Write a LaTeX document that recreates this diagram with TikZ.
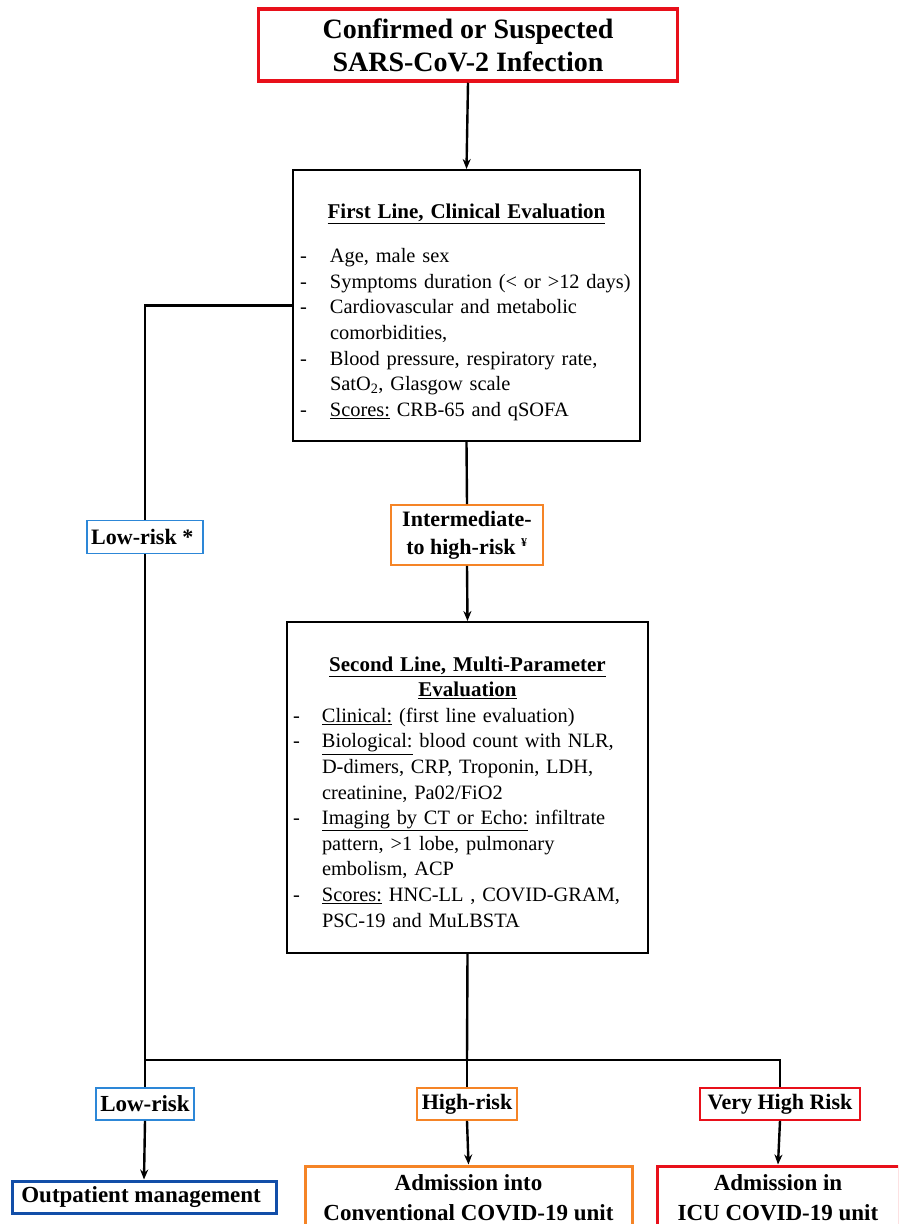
\documentclass[tikz,border=0pt]{standalone}
\usepackage{fontspec}
\setmainfont{Liberation Serif}
\usetikzlibrary{arrows.meta}

\definecolor{alarmred}{RGB}{232,16,26}
\definecolor{warnorange}{RGB}{245,132,38}
\definecolor{lowblue}{RGB}{45,135,215}
\definecolor{deepblue}{RGB}{18,78,168}

\tikzstyle{block} = [rectangle, draw, line width=2pt, inner sep=0pt, font=\fontsize{20.4}{25.6}\selectfont]
\tikzstyle{riskbox} = [rectangle, draw, line width=1.8pt, inner sep=0pt, align=center, font=\bfseries\fontsize{22}{28}\selectfont]
\tikzstyle{endbox} = [rectangle, draw, line width=3pt, inner sep=0pt, align=center, font=\bfseries\fontsize{23}{30}\selectfont]
\tikzstyle{line} = [line width=2.4pt]
\tikzstyle{arrow} = [line width=2.4pt,-{Stealth[length=10pt,width=8pt]}]

\newcommand{\headline}[1]{\makebox[\linewidth]{\fontsize{21}{25.6}\selectfont\bfseries\underline{#1}}}

\begin{document}
\begin{tikzpicture}[x = 1pt, y = -1pt]

\useasboundingbox (0,0) rectangle (898,1224);
\clip (0,0) rectangle (898,1224);

% ----------------------------------------------------

  \node (infection) [rectangle, draw=alarmred, line width=3.5pt, align=center,
        minimum width=419pt, minimum height=72pt, inner sep=0pt,
        font=\bfseries\fontsize{28}{33}\selectfont] at (468, 45) {
    Confirmed or Suspected \\
    SARS-CoV-2 Infection
  };

  \node (first) [block, minimum width=347pt, minimum height=271pt,
        text width=333pt, align=left] at (466.5, 305.5) {
    \rule{0pt}{31pt}\headline{First Line, Clinical Evaluation} \\[19pt]
    \begin{tabular}[t]{@{}p{30pt}@{}l@{}}
      - & Age, male sex \\
      - & Symptoms duration (< or >12 days) \\
      - & Cardiovascular and metabolic \\
        & comorbidities, \\
      - & Blood pressure, respiratory rate, \\
        & SatO\textsubscript{2}, Glasgow scale \\
      - & \underline{Scores:} CRB-65 and qSOFA
    \end{tabular}
  };

  \node (lowfirst) [riskbox, draw=lowblue, minimum width=116pt, minimum height=33pt] at (145, 537) {
    Low-risk *
  };

  \node (intermediate) [riskbox, draw=warnorange, minimum width=152pt, minimum height=60pt] at (467, 535) {
    Intermediate- \\
    to high-risk \textsuperscript{\fontsize{12}{12}\selectfont ¥}
  };

  \node (second) [block, minimum width=361pt, minimum height=331pt,
        text width=349pt, align=left] at (467.5, 787.5) {
    \rule{0pt}{31pt}\headline{Second Line, Multi-Parameter} \\
    \headline{Evaluation} \\
    \begin{tabular}[t]{@{}p{29pt}@{}l@{}}
      - & \underline{Clinical:} (first line evaluation) \\
      - & \underline{Biological:} blood count with NLR, \\
        & D-dimers, CRP, Troponin, LDH, \\
        & creatinine, Pa02/FiO2 \\
      - & \underline{Imaging by CT or Echo:} infiltrate \\
        & pattern, >1 lobe, pulmonary \\
        & embolism, ACP \\
      - & \underline{Scores:} HNC-LL , COVID-GRAM, \\
        & PSC-19 and MuLBSTA
    \end{tabular}
  };

  \coordinate (split) at (467, 1060);

  \node (lowrisk) [riskbox, draw=lowblue, minimum width=98pt, minimum height=32pt,
        font=\bfseries\fontsize{23}{28}\selectfont] at (145, 1104) {Low-risk};
  \node (highrisk) [riskbox, draw=warnorange, minimum width=100pt, minimum height=32pt] at (467, 1104) {High-risk};
  \node (veryhigh) [riskbox, draw=alarmred, minimum width=160pt, minimum height=32pt] at (780, 1104) {Very High Risk};

  \node (outpatient) [endbox, draw=deepblue, minimum width=264pt, minimum height=32pt] at (144, 1197) {
    Outpatient management
  };
  \node (conventional) [endbox, draw=warnorange, minimum width=327pt, minimum height=64pt] at (468.5, 1198) {
    Admission into \\
    Conventional COVID-19 unit
  };
  \node (icu) [endbox, draw=alarmred, minimum width=242pt, minimum height=64pt] at (778, 1198) {
    Admission in \\
    ICU COVID-19 unit
  };

% ----------------------------------------------------

  \draw[arrow] (infection.south) -- (first.north);
  \draw[line] (first.west) -| (lowfirst.north);
  \draw[line] (lowfirst.south) -- (lowrisk.north);
  \draw[line] (first.south) -- (intermediate.north);
  \draw[arrow] (intermediate.south) -- (second.north);
  \draw[line] (second.south) -- (split);
  \draw[line] (lowrisk.north |- split) -- (split);
  \draw[line] (split) -| (veryhigh.north);
  \draw[line] (split) -- (highrisk.north);

  \draw[arrow] (lowrisk.south) -- (outpatient.north);
  \draw[arrow] (highrisk.south) -- (conventional.north);
  \draw[arrow] (veryhigh.south) -- (icu.north);

\end{tikzpicture}
\end{document}
